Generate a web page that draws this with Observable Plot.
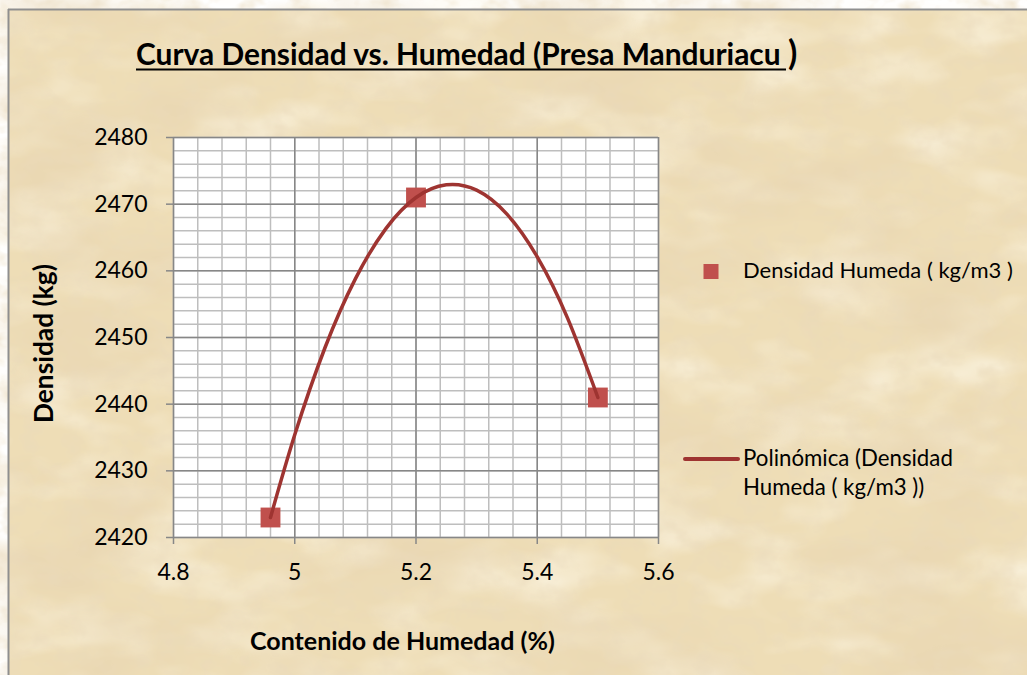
<!DOCTYPE html>
<html>
<head>
<meta charset="utf-8">
<script src="https://cdn.jsdelivr.net/npm/d3@7"></script>
<script src="https://cdn.jsdelivr.net/npm/@observablehq/plot@0.6"></script>
<style>
  html, body { margin: 0; padding: 0; background: #ffffff; overflow: hidden; }
  #wrap { position: relative; width: 1027px; height: 675px; font-family: Lato, sans-serif; }
  #bg { position: absolute; left: 0; top: 0; }
  #chart { position: absolute; left: 0; top: 0; }
</style>
</head>
<body>
<div id="wrap">
  <svg id="bg" width="1027" height="675">
    <defs>
      <filter id="blotch" filterUnits="userSpaceOnUse" x="0" y="0" width="1027" height="675">
        <feTurbulence type="fractalNoise" baseFrequency="0.006 0.013" numOctaves="4" seed="7"/>
        <feColorMatrix type="matrix" values="0 0 0 0 0.80  0 0 0 0 0.66  0 0 0 0 0.44  1.8 0 0 0 -0.80"/>
      </filter>
      <filter id="grain" filterUnits="userSpaceOnUse" x="0" y="0" width="1027" height="675">
        <feTurbulence type="fractalNoise" baseFrequency="0.045 0.06" numOctaves="3" seed="3"/>
        <feColorMatrix type="matrix" values="0 0 0 0 0.82  0 0 0 0 0.70  0 0 0 0 0.50  1.3 0 0 0 -0.58"/>
      </filter>
      <filter id="light" filterUnits="userSpaceOnUse" x="0" y="0" width="1027" height="675">
        <feTurbulence type="fractalNoise" baseFrequency="0.01 0.02" numOctaves="3" seed="21"/>
        <feColorMatrix type="matrix" values="0 0 0 0 0.98  0 0 0 0 0.93  0 0 0 0 0.80  1.6 0 0 0 -0.72"/>
      </filter>
    </defs>
    <rect x="9" y="10" width="1018" height="665" fill="#EEDDB6"/>
    <rect x="9" y="10" width="1018" height="665" filter="url(#light)"/>
    <rect x="9" y="10" width="1018" height="665" filter="url(#blotch)"/>
    <rect x="9" y="10" width="1018" height="665" filter="url(#grain)"/>
    <line x1="8.5" y1="9" x2="8.5" y2="675" stroke="#8f8f8f" stroke-width="2"/>
    <line x1="8" y1="9.5" x2="1027" y2="9.5" stroke="#8f8f8f" stroke-width="2"/>
  </svg>
  <div id="chart"></div>
</div>
<script>
// ---- data ----
const humedad = [4.96, 5.2, 5.5];            // Contenido de Humedad (%)
const densidad = [2423, 2471, 2441];         // Densidad Humeda (kg/m3)

// polynomial trend line
const trendX = [4.96, 5.0, 5.05, 5.1, 5.15, 5.2, 5.25, 5.3, 5.35, 5.4, 5.45, 5.5];
const trendY = [2423, 2435.4, 2448.5, 2458.8, 2466.3, 2471, 2472.9, 2472.1, 2468.5, 2462.1, 2452.9, 2441];

const xTicks = [4.8, 5.0, 5.2, 5.4, 5.6];
const xTickLabels = ["4.8", "5", "5.2", "5.4", "5.6"];
const yTicks = [2420, 2430, 2440, 2450, 2460, 2470, 2480];

const titleText = "Curva Densidad vs. Humedad (Presa Manduriacu";
const xTitle = "Contenido de Humedad (%)";
const yTitle = "Densidad (kg)";
const legendPoints = "Densidad Humeda ( kg/m3 )";
const legendLine = ["Polinómica (Densidad", "Humeda ( kg/m3 ))"];

// ---- derived tables ----
const points = humedad.map((h, i) => ({x: h, y: densidad[i]}));
const trend = trendX.map((h, i) => ({x: h, y: trendY[i]}));
const xMinor = d3.range(0, 21).map(i => 4.8 + i * 0.04);
const yMinor = d3.range(0, 31).map(i => 2420 + i * 2);

const RED = "#C0504D";
const DARKRED = "#9E3431";

const chart = Plot.plot({
  width: 1027,
  height: 675,
  marginLeft: 173,
  marginRight: 369,
  marginTop: 137,
  marginBottom: 138,
  style: {background: "transparent", fontFamily: "Lato, sans-serif", color: "#000"},
  x: {domain: [4.8, 5.6]},
  y: {domain: [2420, 2480]},
  marks: [
    Plot.frame({fill: "white", stroke: null}),
    Plot.ruleX(xMinor, {stroke: "#BEBEBE", strokeWidth: 1.5}),
    Plot.ruleY(yMinor, {stroke: "#BEBEBE", strokeWidth: 1.5}),
    Plot.ruleX(xTicks, {stroke: "#878787", strokeWidth: 1.5}),
    Plot.ruleY(yTicks, {stroke: "#878787", strokeWidth: 1.5}),
    Plot.axisX({ticks: xTicks, tickFormat: d => xTickLabels[xTicks.indexOf(d)], tickSize: 7, tickPadding: 19,
      fontSize: 23, stroke: "#878787", strokeWidth: 1.5, fill: "#000", label: null}),
    Plot.axisY({ticks: yTicks, tickFormat: d => String(d), tickSize: 7, tickPadding: 19,
      fontSize: 23, stroke: "#878787", strokeWidth: 1.5, fill: "#000", label: null}),
    Plot.dot(points, {x: "x", y: "y", symbol: "square", r: 11.2, fill: RED, stroke: null}),
    Plot.line(trend, {x: "x", y: "y", stroke: DARKRED, strokeWidth: 3.5, curve: "natural"})
  ]
});
document.getElementById("chart").appendChild(chart);

const svg = d3.select(chart);
const g = svg.append("g").attr("font-family", "Lato, sans-serif").attr("fill", "#000").attr("text-anchor", "start");

function fit(sel, width) {
  const w = sel.node().getComputedTextLength();
  const fs = parseFloat(sel.attr("font-size"));
  if (w > 0) sel.attr("font-size", fs * width / w);
  return sel;
}

// title
const t = g.append("text").attr("x", 136).attr("y", 65).attr("font-size", 27).attr("font-weight", "bold").text(titleText);
fit(t, 645);
g.append("line").attr("x1", 136).attr("x2", 786).attr("y1", 69.5).attr("y2", 69.5).attr("stroke", "#000").attr("stroke-width", 2);
g.append("text").attr("x", 788).attr("y", 65).attr("font-size", 34).attr("font-weight", "bold").text(")");

// axis titles
const xt = g.append("text").attr("x", 250).attr("y", 650).attr("font-size", 19).attr("font-weight", "bold").text(xTitle);
fit(xt, 305);
const yt = g.append("text").attr("transform", "translate(53,423) rotate(-90)").attr("font-size", 19).attr("font-weight", "bold").text(yTitle);
fit(yt, 159);

// legend
g.append("rect").attr("x", 703.5).attr("y", 264).attr("width", 15).attr("height", 15).attr("fill", RED);
const l1 = g.append("text").attr("x", 743).attr("y", 277.5).attr("font-size", 19).text(legendPoints);
fit(l1, 270);
g.append("line").attr("x1", 685).attr("x2", 738).attr("y1", 459).attr("y2", 459).attr("stroke", DARKRED).attr("stroke-width", 4).attr("stroke-linecap", "round");
const l2 = g.append("text").attr("x", 743).attr("y", 466).attr("font-size", 19).text(legendLine[0]);
fit(l2, 210);
const l3 = g.append("text").attr("x", 743).attr("y", 495).attr("font-size", +l2.attr("font-size")).text(legendLine[1]);
</script>
</body>
</html>
